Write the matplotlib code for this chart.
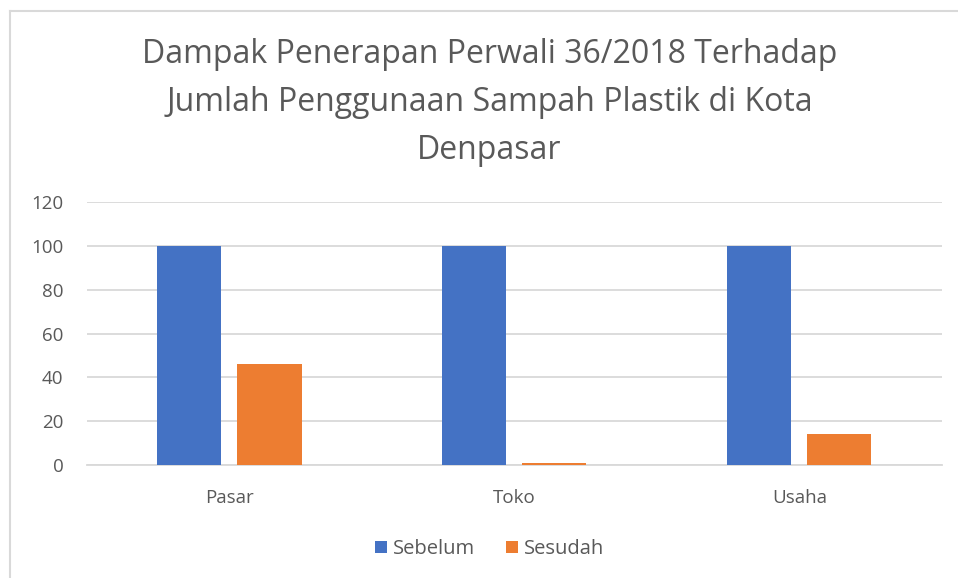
import numpy as np
import matplotlib.pyplot as plt
from matplotlib.lines import Line2D

categories = ['Pasar', 'Toko', 'Usaha']
sebelum = [100, 100, 100]
sesudah = [46, 1, 14]
yticks = [0, 20, 40, 60, 80, 100, 120]

plt.rcParams['font.family'] = ['Open Sans', 'DejaVu Sans']

fig = plt.figure(figsize=(9.58, 5.78), dpi=100)
ax = fig.add_axes([0.0908, 0.1955, 0.8922, 0.455])

x = np.arange(len(categories))
w = 0.225
gap = 0.056
ax.bar(x - (w + gap) / 2, sebelum, w, color='#4472C4', label='Sebelum', zorder=3)
ax.bar(x + (w + gap) / 2, sesudah, w, color='#ED7D31', label='Sesudah', zorder=3)

ax.set_xlim(-0.5, 2.5)
ax.set_ylim(0, 120)
ax.set_yticks(yticks)
ax.set_xticks(x)
ax.set_xticklabels(categories)
ax.grid(axis='y', color='#D9D9D9', linewidth=1.3, zorder=0)
for s in ['top', 'right', 'left']:
    ax.spines[s].set_visible(False)
ax.spines['bottom'].set_color('#D9D9D9')
ax.spines['bottom'].set_linewidth(1.3)
ax.tick_params(axis='both', length=0, labelsize=13.5, colors='#595959')
ax.tick_params(axis='y', pad=17)
ax.tick_params(axis='x', pad=17)

fig.text(0.511, 0.822, 'Dampak Penerapan Perwali 36/2018 Terhadap\nJumlah Penggunaan Sampah Plastik di Kota\nDenpasar',
         ha='center', va='center', fontsize=23, color='#595959', linespacing=1.6)

fig.legend(loc='center', bbox_to_anchor=(0.511, 0.05), ncol=2, frameon=False,
           fontsize=14.5, labelcolor='#595959', handlelength=0.6, handleheight=0.6,
           handletextpad=0.3, columnspacing=1.5)

fig.add_artist(Line2D([10 / 958, 10 / 958], [0, 1 - 11 / 578], color='#D9D9D9', linewidth=1.5))
fig.add_artist(Line2D([10 / 958, 1], [1 - 11 / 578, 1 - 11 / 578], color='#D9D9D9', linewidth=1.5))

fig.savefig('out.png', dpi=100, facecolor='white')
